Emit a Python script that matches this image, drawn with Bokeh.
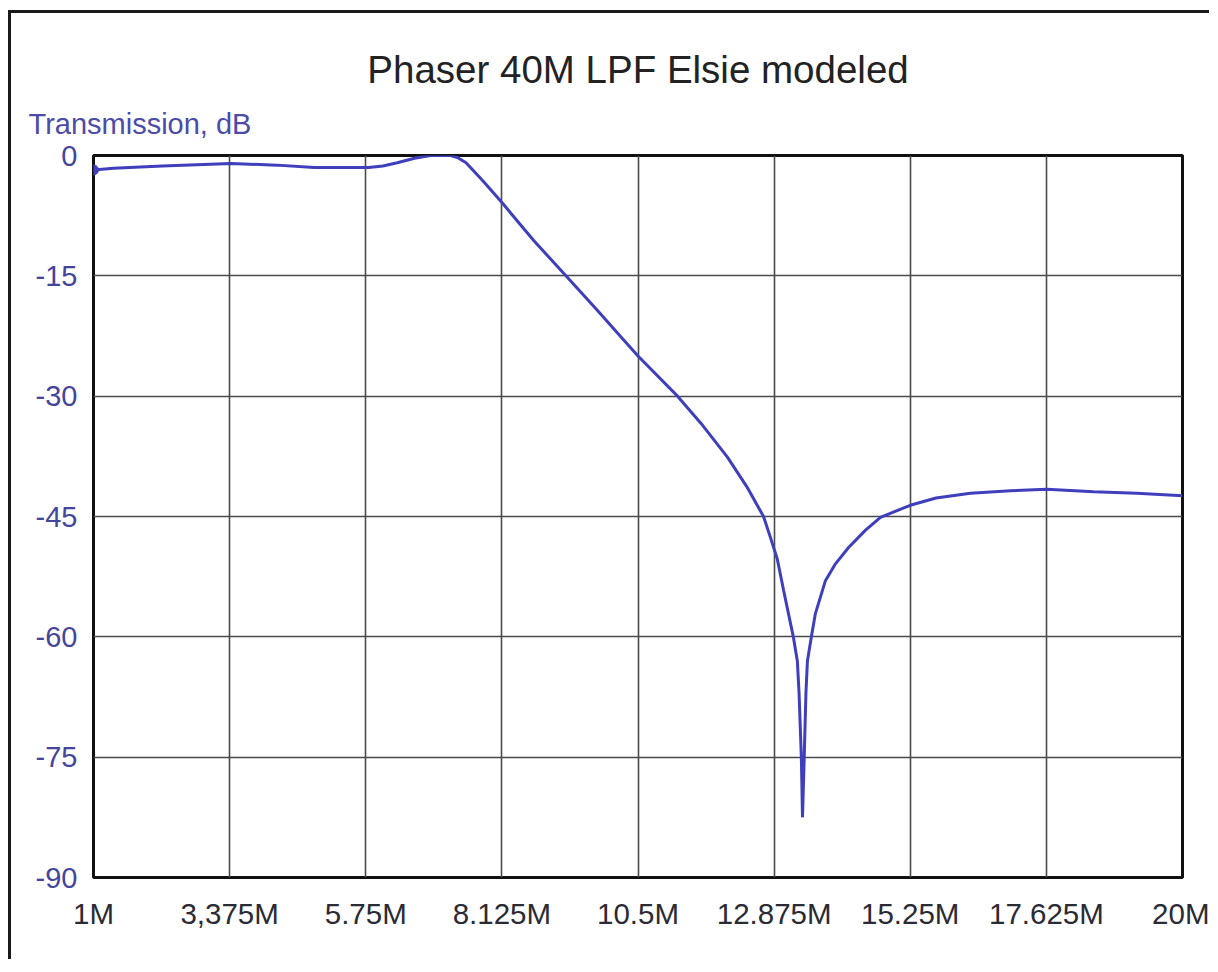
from bokeh.plotting import figure
from bokeh.models import FixedTicker, Title, ColumnDataSource
from bokeh.embed import file_html
from bokeh.resources import INLINE

# ---- data ----
freq_mhz = [1.0, 1.35, 2.2, 3.4, 4.2, 4.85, 5.8, 6.05, 6.3, 6.6, 6.88, 7.05, 7.23, 7.35,
            7.5, 7.63, 7.8, 8.13, 8.68, 9.27, 9.79, 10.2, 10.5, 11.19, 11.6, 12.06,
            12.4, 12.69, 12.81, 12.93, 13.04, 13.21, 13.28, 13.31, 13.35, 13.37,
            13.40, 13.43, 13.456, 13.525, 13.595, 13.77, 13.945, 14.17, 14.47, 14.73,
            15.25, 15.7, 16.3, 17.0, 17.63, 18.45, 19.2, 20.0]
trans_db = [-1.8, -1.6, -1.3, -1.0, -1.2, -1.5, -1.5, -1.3, -0.9, -0.35, 0.0, 0.0, 0.0, -0.25,
            -0.9, -1.9, -3.2, -5.9, -10.6, -15.2, -19.3, -22.6, -25.0, -30.0, -33.4, -37.6,
            -41.3, -45.0, -47.6, -50.3, -54.2, -60.0, -63.0, -67.0, -75.0, -82.5,
            -75.0, -67.0, -63.0, -60.0, -57.1, -53.0, -50.9, -48.9, -46.7, -45.1,
            -43.6, -42.7, -42.1, -41.8, -41.6, -41.9, -42.1, -42.4]

x_ticks = [1, 3.375, 5.75, 8.125, 10.5, 12.875, 15.25, 17.625, 20]
x_tick_labels = ["1M", "3,375M", "5.75M", "8.125M", "10.5M", "12.875M", "15.25M", "17.625M", "20M"]
y_ticks = [0, -15, -30, -45, -60, -75, -90]
y_tick_labels = ["0", "-15", "-30", "-45", "-60", "-75", "-90"]

title_text = "Phaser 40M LPF Elsie modeled"
y_label_text = "Transmission, dB"

FONT = "Liberation Sans"
LINE_BLUE = "#3f3fbd"

src = ColumnDataSource(data=dict(f=freq_mhz, db=trans_db))
start_src = ColumnDataSource(data=dict(f=freq_mhz[:1], db=trans_db[:1]))

p = figure(width=1209, height=959, x_range=(1, 20), y_range=(-90, 0),
           output_backend="svg", toolbar_location=None, title=None,
           min_border_left=93, min_border_right=27, min_border_bottom=82,
           min_border_top=155, background_fill_color="white",
           border_fill_color=None)

# outer page frame (left and top edges), drawn as the element's CSS background
p.styles = {"background": ("linear-gradient(#1a1a1a, #1a1a1a) 8px 10px / 3px 100% no-repeat, "
                           "linear-gradient(#1a1a1a, #1a1a1a) 8px 10px / 100% 3px no-repeat, "
                           "white")}

# titles (first added is nearest the frame)
ylab = Title(text=y_label_text, align="left", offset=-65, text_font=FONT,
             text_font_size="29px", text_font_style="normal", text_color="#4b4ba8",
             standoff=31)
p.add_layout(ylab, "above")
main_title = Title(text=title_text, align="center", text_font=FONT,
                   text_font_size="38.5px", text_font_style="normal", text_color="#222222",
                   standoff=0)
p.add_layout(main_title, "above")

# axes
p.xaxis.ticker = FixedTicker(ticks=x_ticks)
p.xaxis.major_label_overrides = {t: l for t, l in zip(x_ticks, x_tick_labels)}
p.yaxis.ticker = FixedTicker(ticks=y_ticks)
p.yaxis.major_label_overrides = {t: l for t, l in zip(y_ticks, y_tick_labels)}

for ax in (p.xaxis, p.yaxis):
    ax.axis_line_color = None
    ax.major_tick_line_color = None
    ax.minor_tick_line_color = None
    ax.major_label_text_font = FONT

p.xaxis.major_label_text_font_size = "29.5px"
p.xaxis.major_label_text_color = "#2b2b35"
p.xaxis.major_label_standoff = 13
p.yaxis.major_label_text_font_size = "29px"
p.yaxis.major_label_text_color = "#45459c"
p.yaxis.major_label_standoff = 10

p.xgrid.ticker = FixedTicker(ticks=x_ticks)
p.ygrid.ticker = FixedTicker(ticks=y_ticks)
for g in (p.xgrid, p.ygrid):
    g.grid_line_color = "#4a4a4a"
    g.grid_line_width = 1.6

p.outline_line_color = "#111111"
p.outline_line_width = 3

p.line("f", "db", source=src, line_color=LINE_BLUE, line_width=3)
p.scatter("f", "db", source=start_src, size=10, color=LINE_BLUE)

open("out.html", "w").write(file_html(p, INLINE))
